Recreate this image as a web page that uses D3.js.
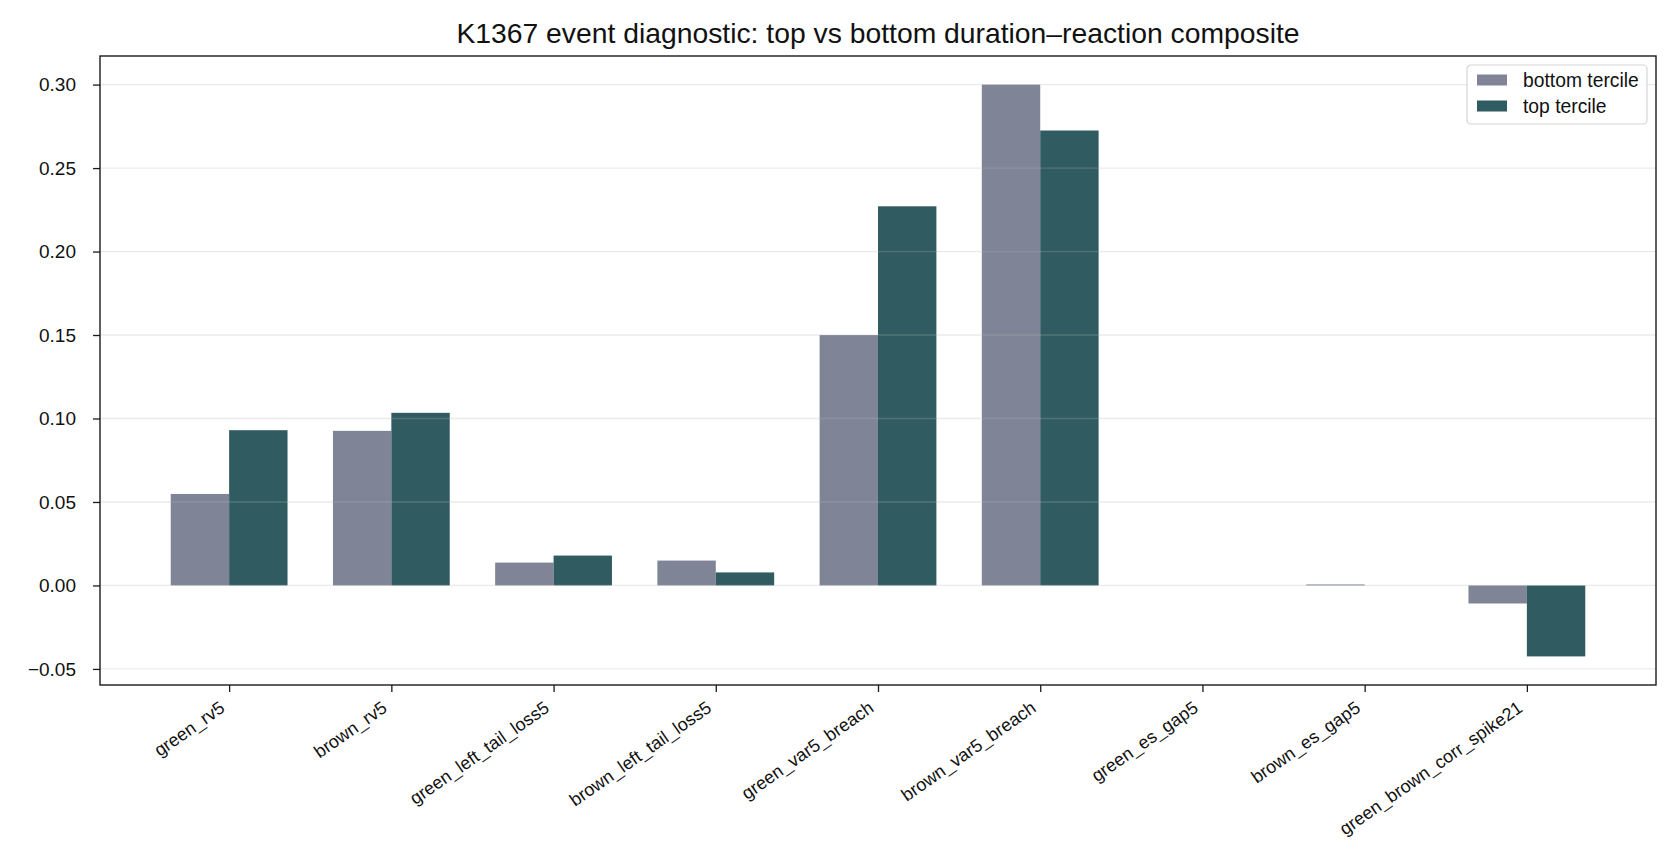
<!DOCTYPE html>
<html>
<head>
<meta charset="utf-8">
<script src="https://cdn.jsdelivr.net/npm/d3@7"></script>
<style>
  body { margin: 0; background: #fff; }
  svg text { font-family: "Liberation Sans", Arial, sans-serif; fill: #111; }
</style>
</head>
<body>
<svg id="chart" width="1680" height="864"></svg>
<script>
// data
const categories = ["green_rv5", "brown_rv5", "green_left_tail_loss5", "brown_left_tail_loss5",
  "green_var5_breach", "brown_var5_breach", "green_es_gap5", "brown_es_gap5", "green_brown_corr_spike21"];
const bottomTercile = [0.0548, 0.0926, 0.0137, 0.0149, 0.1500, 0.3000, 0.0, 0.0006, -0.0108];
const topTercile    = [0.0930, 0.1034, 0.0179, 0.0078, 0.2271, 0.2725, 0.0, 0.0, -0.0425];
const seriesNames = ["bottom tercile", "top tercile"];
const seriesColors = ["#7f8597", "#305c61"];
const yTicks = [-0.05, 0.00, 0.05, 0.10, 0.15, 0.20, 0.25, 0.30];
const title = "K1367 event diagnostic: top vs bottom duration\u2013reaction composite";

const svg = d3.select("#chart");
const m = {left: 100, right: 1656, top: 56, bottom: 685};
const barW = 0.36;

// x: numeric positions like matplotlib, 5% margins
let xlo = -barW, xhi = categories.length - 1 + barW;
let xpad = (xhi - xlo) * 0.05;
const x = d3.scaleLinear().domain([xlo - xpad, xhi + xpad]).range([m.left, m.right]);

let all = bottomTercile.concat(topTercile, [0]);
let ylo = d3.min(all), yhi = d3.max(all);
let ypad = (yhi - ylo) * 0.05;
const y = d3.scaleLinear().domain([ylo - ypad, yhi + ypad]).range([m.bottom, m.top]);

const series = [bottomTercile, topTercile];
const g = svg.append("g");

series.forEach(function (vals, s) {
  g.selectAll("rect.s" + s)
    .data(vals)
    .join("rect")
    .attr("class", "s" + s)
    .attr("x", (d, i) => x(s == 0 ? i - barW : i))
    .attr("width", x(barW) - x(0))
    .attr("y", d => y(Math.max(d, 0)))
    .attr("height", d => Math.abs(y(d) - y(0)))
    .attr("fill", seriesColors[s]);
});

// grid drawn over the bars, faint
svg.append("g").selectAll("line")
  .data(yTicks)
  .join("line")
  .attr("x1", m.left).attr("x2", m.right)
  .attr("y1", d => y(d)).attr("y2", d => y(d))
  .attr("stroke", "#b0b0b0")
  .attr("stroke-opacity", 0.27)
  .attr("stroke-width", 1.3);

// frame
svg.append("rect")
  .attr("x", m.left).attr("y", m.top)
  .attr("width", m.right - m.left).attr("height", m.bottom - m.top)
  .attr("fill", "none").attr("stroke", "#1a1a1a").attr("stroke-width", 1.4);

// y axis
const yAxis = d3.axisLeft(y).tickValues(yTicks).tickFormat(d3.format(".2f")).tickSize(7).tickPadding(17);
const ya = svg.append("g").attr("transform", `translate(${m.left},0)`).call(yAxis);
ya.select(".domain").remove();
ya.selectAll(".tick line").attr("stroke", "#1a1a1a").attr("stroke-width", 1.3);
ya.selectAll(".tick text").style("font-size", "19px").style("font-family", "Liberation Sans").attr("fill", "#111");

// x axis
const xAxis = d3.axisBottom(x).tickValues(d3.range(categories.length)).tickFormat(i => categories[i]).tickSize(7);
const xa = svg.append("g").attr("transform", `translate(0,${m.bottom})`).call(xAxis);
xa.select(".domain").remove();
xa.selectAll(".tick line").attr("stroke", "#1a1a1a").attr("stroke-width", 1.3);
xa.selectAll(".tick text")
  .style("font-size", "18px").style("font-family", "Liberation Sans")
  .attr("fill", "#111")
  .attr("text-anchor", "end")
  .attr("x", 0).attr("y", 0).attr("dy", "0.72em")
  .attr("transform", "translate(-11,15) rotate(-35)");

// title
svg.append("text")
  .attr("x", (m.left + m.right) / 2).attr("y", 43)
  .attr("text-anchor", "middle")
  .style("font-size", "28.3px")
  .text(title);

// legend
const lg = svg.append("g").attr("transform", "translate(1467,65)");
lg.append("rect").attr("width", 180).attr("height", 59).attr("rx", 4)
  .attr("fill", "#fff").attr("fill-opacity", 0.85).attr("stroke", "#d5d5d5").attr("stroke-width", 1.2);
const items = lg.selectAll("g.item").data(seriesNames).join("g").attr("class", "item")
  .attr("transform", (d, i) => `translate(10,${15 + i * 26})`);
items.append("rect").attr("width", 30).attr("height", 11).attr("y", -5.5)
  .attr("fill", (d, i) => seriesColors[i]);
items.append("text").attr("x", 46).attr("dy", "0.35em").style("font-size", "19.3px").text(d => d);
</script>
</body>
</html>
